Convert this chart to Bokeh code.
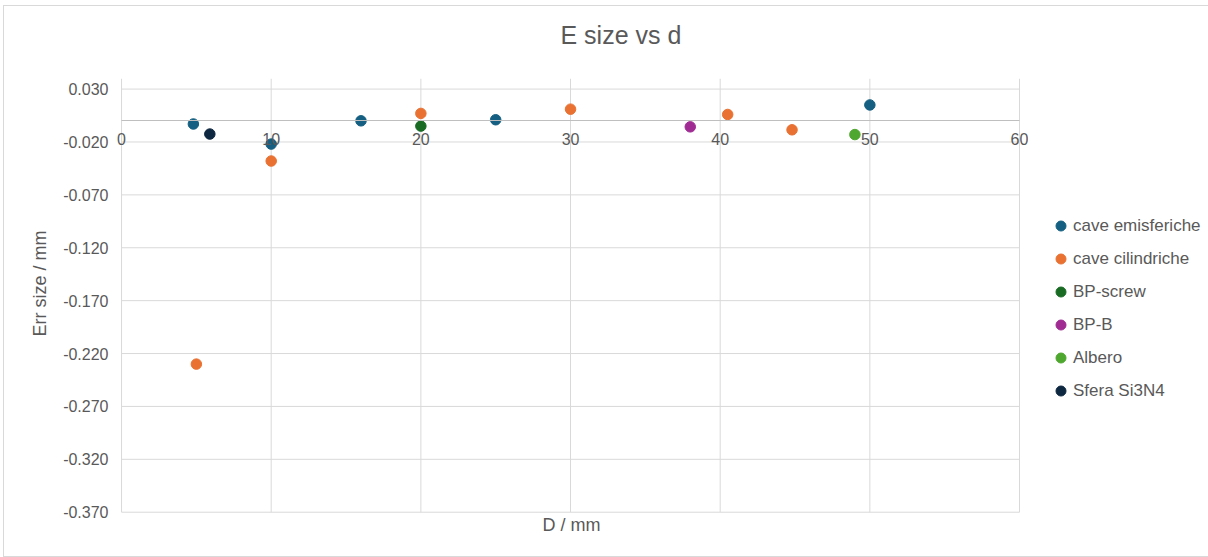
from bokeh.plotting import figure
from bokeh.models import (Range1d, FixedTicker, NumeralTickFormatter, Title,
                          Legend, LegendItem)
from bokeh.embed import file_html
from bokeh.resources import INLINE

# Error on size vs nominal diameter, one list pair per feature family
series_names = ["cave emisferiche", "cave cilindriche", "BP-screw", "BP-B",
                "Albero", "Sfera Si3N4"]
series_colors = ["#156082", "#E97132", "#196B24", "#A02B93", "#4EA72E", "#0E2841"]

emisferiche_d = [4.8, 10, 16, 25, 50]
emisferiche_err = [-0.003, -0.022, 0.000, 0.001, 0.015]

cilindriche_d = [5, 10, 20, 30, 40.5, 44.8]
cilindriche_err = [-0.230, -0.038, 0.007, 0.011, 0.006, -0.0085]

bp_screw_d = [20]
bp_screw_err = [-0.005]

bp_b_d = [38]
bp_b_err = [-0.0057]

albero_d = [49]
albero_err = [-0.013]

sfera_d = [5.9]
sfera_err = [-0.0125]

x_ticks = [0, 10, 20, 30, 40, 50, 60]
y_ticks = [0.03, -0.02, -0.07, -0.12, -0.17, -0.22, -0.27, -0.32, -0.37]
x_min, x_max = 0, 60
y_min, y_max = -0.37, 0.04

series_d = [emisferiche_d, cilindriche_d, bp_screw_d, bp_b_d, albero_d, sfera_d]
series_err = [emisferiche_err, cilindriche_err, bp_screw_err, bp_b_err,
              albero_err, sfera_err]

FONT = "Liberation Sans"
TXT = "#595959"
GRID = "#d9d9d9"

# ranges padded a little so the edge grid lines and end tick labels stay visible
p = figure(frame_width=914, frame_height=439, output_backend="svg",
           toolbar_location=None,
           x_range=Range1d(-0.47, 60.6), y_range=Range1d(-0.375, y_max),
           min_border_left=110, min_border_right=179,
           min_border_top=72, min_border_bottom=39)
p.margin = (5, 0, 0, 3)
p.styles = {"border": "1px solid #d9d9d9", "box-sizing": "border-box"}
p.outline_line_color = None
p.background_fill_color = "white"
p.border_fill_color = "white"
p.grid.visible = False

# grid drawn over the plotting area only
p.segment(x0=x_min, x1=x_max, y0=y_ticks, y1=y_ticks, line_color=GRID, line_width=1)
p.segment(x0=x_ticks, x1=x_ticks, y0=y_min, y1=y_max, line_color=GRID, line_width=1)

# x axis crosses at zero
p.xaxis.fixed_location = 0
p.xaxis.bounds = (x_min, x_max)
p.xaxis.ticker = FixedTicker(ticks=x_ticks)
p.xaxis.axis_line_color = "#bfbfbf"
p.xaxis.major_tick_line_color = None
p.xaxis.minor_tick_line_color = None
p.xaxis.major_tick_out = 0
p.xaxis.major_label_standoff = 12
p.xaxis.major_label_text_font = FONT
p.xaxis.major_label_text_font_size = "16px"
p.xaxis.major_label_text_color = TXT

p.yaxis.ticker = FixedTicker(ticks=y_ticks)
p.yaxis.formatter = NumeralTickFormatter(format="0.000")
p.yaxis.axis_line_color = None
p.yaxis.major_tick_line_color = None
p.yaxis.minor_tick_line_color = None
p.yaxis.major_tick_out = 0
p.yaxis.major_label_standoff = 6
p.yaxis.major_label_text_font = FONT
p.yaxis.major_label_text_font_size = "16px"
p.yaxis.major_label_text_color = TXT

items = []
for name, color, xs, ys in zip(series_names, series_colors, series_d, series_err):
    r = p.scatter(xs, ys, size=10.5, fill_color=color, line_color=color)
    items.append(LegendItem(label=name, renderers=[r]))

legend = Legend(items=items, location=(20, 114), orientation="vertical",
                border_line_color=None, background_fill_alpha=0,
                padding=0, margin=0, spacing=8,
                glyph_width=25, glyph_height=25, label_height=20,
                label_standoff=-3,
                label_text_font=FONT, label_text_font_size="17px",
                label_text_color=TXT)
p.add_layout(legend, "right")

# trailing empty line lifts the title away from the plotting area
p.title = Title(text="E size vs d\n", align="left", offset=446, standoff=3,
                vertical_align="bottom", text_line_height=1.0,
                text_font=FONT, text_font_size="25px", text_color=TXT,
                text_font_style="normal")

xlabel = Title(text="D / mm", align="left", offset=428, standoff=-5,
               vertical_align="top",
               text_font=FONT, text_font_size="18px", text_color=TXT,
               text_font_style="normal")
ylabel = Title(text="Err size / mm", align="left", offset=181, standoff=22,
               text_font=FONT, text_font_size="18px", text_color=TXT,
               text_font_style="normal")
p.add_layout(xlabel, "below")
p.add_layout(ylabel, "left")

open("out.html", "w").write(file_html(p, INLINE))
